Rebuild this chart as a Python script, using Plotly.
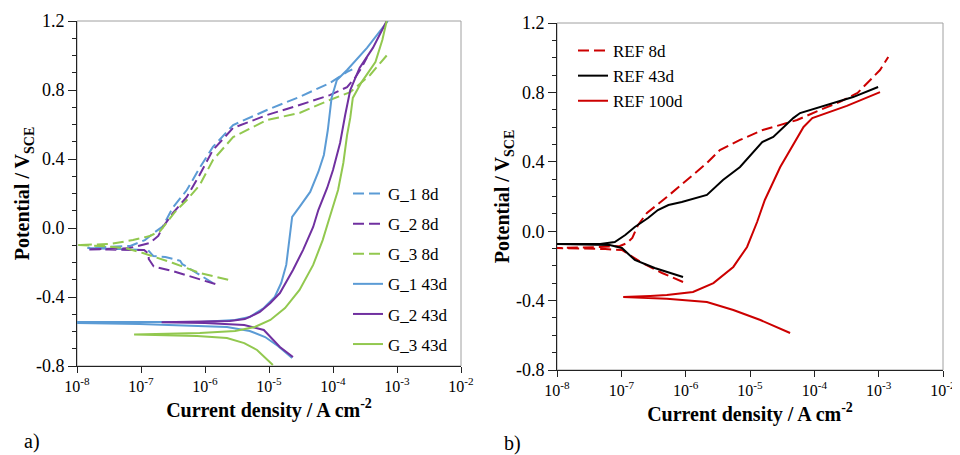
import plotly.graph_objects as go

# ---------------- data (current density A/cm2, potential V_SCE) ----------------
# Panel a)
g1_8d_i = [1.33e-6, 6.9e-7, 4.4e-7, 4.1e-7, 2.4e-7, 1.55e-7, 1.29e-7, 4.7e-8, 1.45e-8,
           6.8e-8, 1.15e-7, 1.66e-7, 2.2e-7, 3.16e-7, 5.2e-7, 8.3e-7, 1.33e-6, 2.75e-6,
           9.3e-6, 3.0e-5, 8.9e-5, 1.66e-4, 2.0e-4]
g1_8d_e = [-0.319, -0.255, -0.209, -0.19, -0.168, -0.162, -0.128, -0.122, -0.116,
           -0.104, -0.07, -0.023, 0.01, 0.12, 0.22, 0.35, 0.47, 0.597,
           0.684, 0.76, 0.84, 0.905, 0.92]

g2_8d_i = [1.45e-6, 5.9e-7, 3.3e-7, 1.58e-7, 1.32e-7, 1.32e-7, 1.12e-7, 3.16e-8, 1.45e-8,
           6.3e-8, 1.38e-7, 1.86e-7, 2.2e-7, 3.16e-7, 5.2e-7, 8.3e-7, 1.33e-6, 2.75e-6,
           9.3e-6, 3.0e-5, 8.9e-5, 1.66e-4, 2.2e-4, 2.8e-4, 3.4e-4]
g2_8d_e = [-0.325, -0.28, -0.252, -0.223, -0.18, -0.15, -0.128, -0.125, -0.124,
           -0.118, -0.087, -0.046, 0.006, 0.087, 0.18, 0.31, 0.452, 0.58,
           0.655, 0.713, 0.77, 0.817, 0.87, 0.93, 0.99]

g3_8d_i = [2.3e-6, 8.3e-7, 3.16e-7, 1.07e-7, 5.6e-8, 2.3e-8, 1.0e-8,
           3.3e-8, 7.5e-8, 1.38e-7, 2.0e-7, 2.6e-7, 3.4e-7, 5.2e-7, 8.3e-7, 1.33e-6,
           2.75e-6, 9.3e-6, 3.0e-5, 8.9e-5, 1.86e-4, 3.8e-4, 6.9e-4]
g3_8d_e = [-0.30, -0.261, -0.203, -0.145, -0.116, -0.104, -0.099,
           -0.093, -0.07, -0.046, -0.017, 0.035, 0.093, 0.162, 0.25, 0.394,
           0.527, 0.626, 0.667, 0.742, 0.788, 0.887, 1.0]

g1_43d_i = [2.3e-5, 1.38e-5, 8.7e-6, 5.0e-6, 2.2e-6, 9.5e-8, 1.0e-8,
            1.0e-8, 8.3e-7, 2.95e-6, 5.0e-6, 8.3e-6, 1.23e-5, 1.55e-5, 1.86e-5, 2.1e-5,
            2.3e-5, 3.0e-5, 4.4e-5, 5.9e-5, 7.2e-5, 8.3e-5, 9.5e-5, 1.15e-4, 1.66e-4,
            3.4e-4, 7.2e-4]
g1_43d_e = [-0.753, -0.684, -0.632, -0.597, -0.574, -0.557, -0.55,
            -0.545, -0.545, -0.533, -0.516, -0.464, -0.40, -0.319, -0.214, -0.07,
            0.064, 0.122, 0.209, 0.325, 0.423, 0.568, 0.754, 0.858, 0.916,
            1.044, 1.2]

g2_43d_i = [2.37e-5, 1.48e-5, 8.3e-6, 4.1e-6, 1.0e-6, 2.1e-7,
            2.45e-6, 4.2e-6, 7.2e-6, 1.05e-5, 1.48e-5, 2.37e-5, 3.4e-5, 4.9e-5,
            5.9e-5, 8.1e-5, 1.0e-4, 1.29e-4, 1.55e-4, 1.86e-4, 2.6e-4, 4.2e-4, 6.9e-4]
g2_43d_e = [-0.748, -0.69, -0.591, -0.562, -0.55, -0.546,
            -0.539, -0.528, -0.487, -0.435, -0.377, -0.243, -0.128, 0.006,
            0.104, 0.232, 0.336, 0.493, 0.655, 0.80, 0.928, 1.044, 1.2]

g3_43d_i = [1.15e-5, 8.9e-6, 6.5e-6, 4.1e-6, 2.2e-6, 7.5e-7, 7.8e-8,
            8.3e-7, 2.95e-6, 6.0e-6, 1.05e-5, 1.78e-5, 3.0e-5, 4.9e-5, 6.9e-5,
            8.9e-5, 1.2e-4, 1.45e-4, 1.66e-4, 1.86e-4, 2.04e-4, 2.8e-4, 4.6e-4,
            5.9e-4, 6.9e-4]
g3_43d_e = [-0.794, -0.754, -0.707, -0.667, -0.638, -0.626, -0.617,
            -0.609, -0.597, -0.574, -0.533, -0.464, -0.359, -0.214, -0.07,
            0.064, 0.22, 0.377, 0.539, 0.638, 0.754, 0.846, 0.962,
            1.09, 1.2]

# Panel b)
ref_8d_i = [9.1e-7, 4.3e-7, 2.1e-7, 1.02e-7, 5.6e-8, 1.0e-8,
            4.7e-8, 9.5e-8, 1.23e-7, 1.48e-7, 1.82e-7, 2.5e-7, 5.1e-7, 1.05e-6,
            2.14e-6, 3.4e-6, 7.0e-6, 1.58e-5, 5.4e-5, 1.23e-4, 2.5e-4, 4.7e-4,
            6.6e-4, 1.05e-3, 1.41e-3]
ref_8d_e = [-0.293, -0.241, -0.183, -0.108, -0.103, -0.097,
            -0.091, -0.085, -0.068, -0.039, 0.036, 0.105, 0.197, 0.295,
            0.393, 0.468, 0.526, 0.583, 0.641, 0.699, 0.745, 0.797,
            0.854, 0.929, 1.004]

ref_43d_i = [9.1e-7, 3.3e-7, 1.62e-7, 1.02e-7, 6.6e-8, 1.0e-8,
             4.7e-8, 7.9e-8, 1.15e-7, 1.62e-7, 2.6e-7, 3.7e-7, 5.4e-7, 8.7e-7,
             2.14e-6, 3.8e-6, 7.0e-6, 1.29e-5, 1.55e-5, 2.3e-5, 4.7e-5, 6.0e-5,
             1.58e-4, 4.0e-4, 9.8e-4]
ref_43d_e = [-0.264, -0.212, -0.166, -0.097, -0.08, -0.074,
             -0.074, -0.062, -0.022, 0.024, 0.076, 0.122, 0.151, 0.168,
             0.209, 0.295, 0.37, 0.485, 0.514, 0.543, 0.652, 0.681,
             0.727, 0.773, 0.831]

ref_100d_i = [4.2e-5, 1.45e-5, 5.5e-6, 2.14e-6, 5.1e-7, 1.07e-7,
              2.8e-7, 5.1e-7, 1.3e-6, 2.7e-6, 5.5e-6, 9.0e-6, 1.29e-5, 1.7e-5,
              2.95e-5, 4.7e-5, 6.8e-5, 9.3e-5, 1.78e-4, 3.2e-4, 1.05e-3]
ref_100d_e = [-0.587, -0.512, -0.454, -0.408, -0.39, -0.379,
              -0.373, -0.368, -0.35, -0.299, -0.206, -0.091, 0.053, 0.18,
              0.37, 0.497, 0.601, 0.652, 0.687, 0.722, 0.802]

x_tickvals = [1e-8, 1e-7, 1e-6, 1e-5, 1e-4, 1e-3, 1e-2]
x_ticktext = ["10<sup>-8</sup>", "10<sup>-7</sup>", "10<sup>-6</sup>", "10<sup>-5</sup>",
              "10<sup>-4</sup>", "10<sup>-3</sup>", "10<sup>-2</sup>"]
y_tickvals = [-0.8, -0.4, 0.0, 0.4, 0.8, 1.2]
y_ticktext = ["-0.8", "-0.4", "0.0", "0.4", "0.8", "1.2"]

BLUE = "#5B9BD5"
PURPLE = "#7030A0"
GREEN = "#92C84F"
RED = "#CC0000"
BLACK = "#000000"
DASH = "11px,5px"
SERIF = "Liberation Serif"

fig = go.Figure()

left = [
    ("G_1 8d", g1_8d_i, g1_8d_e, BLUE, DASH),
    ("G_2 8d", g2_8d_i, g2_8d_e, PURPLE, DASH),
    ("G_3 8d", g3_8d_i, g3_8d_e, GREEN, DASH),
    ("G_1 43d", g1_43d_i, g1_43d_e, BLUE, "solid"),
    ("G_2 43d", g2_43d_i, g2_43d_e, PURPLE, "solid"),
    ("G_3 43d", g3_43d_i, g3_43d_e, GREEN, "solid"),
]
for k, (name, xi, ye, col, dash) in enumerate(left):
    fig.add_trace(go.Scatter(x=xi, y=ye, mode="lines", name=name,
                             line=dict(color=col, width=2, dash=dash),
                             xaxis="x", yaxis="y", legend="legend",
                             legendgroup="a%d" % k))

right = [
    ("REF 8d", ref_8d_i, ref_8d_e, RED, DASH),
    ("REF 43d", ref_43d_i, ref_43d_e, BLACK, "solid"),
    ("REF 100d", ref_100d_i, ref_100d_e, RED, "solid"),
]
for k, (name, xi, ye, col, dash) in enumerate(right):
    fig.add_trace(go.Scatter(x=xi, y=ye, mode="lines", name=name,
                             line=dict(color=col, width=2, dash=dash),
                             xaxis="x2", yaxis="y2", legend="legend2",
                             legendgroup="b%d" % k))

# The page body has an 8px margin, so the figure is sized to fit the window;
# positions below are given in window pixels.
OFF = 8
W, H = 960 - OFF, 455 - OFF


def PX(px):
    return (px - OFF) / W


def PY(py):
    return 1 - (py - OFF) / H


def xax(x0, x1, anchor):
    return dict(type="log", range=[-8, -2], domain=[PX(x0), PX(x1)], anchor=anchor,
                showline=True, linecolor="#222222", linewidth=1, mirror=False,
                ticks="outside", ticklen=6, tickcolor="#222222",
                tickvals=x_tickvals, ticktext=x_ticktext, ticklabeloverflow="allow",
                tickfont=dict(family=SERIF, size=16, color="black"),
                showgrid=False, zeroline=False, automargin=False,
                title=dict(text="<b>Current density / A cm<sup>-2</sup></b>",
                           font=dict(family=SERIF, size=20, color="black"), standoff=8))


def yax(top, bottom, anchor):
    return dict(range=[-0.8, 1.2], domain=[PY(bottom), PY(top)], anchor=anchor,
                showline=True, linecolor="#222222", linewidth=1, mirror=False,
                ticks="outside", ticklen=8, tickcolor="#222222",
                tickvals=y_tickvals, ticktext=y_ticktext,
                tickfont=dict(family=SERIF, size=18, color="black"),
                minor=dict(tickmode="linear", tick0=0, dtick=0.1, ticks="outside",
                           ticklen=4, tickcolor="#222222"),
                showgrid=False, zeroline=False, automargin=False,
                title=dict(text="<b>Potential / V<sub>SCE</sub></b>",
                           font=dict(family=SERIF, size=20, color="black"), standoff=0))


fig.update_layout(
    width=W, height=H,
    margin=dict(l=0, r=0, t=0, b=0),
    paper_bgcolor="white", plot_bgcolor="white",
    xaxis=xax(77, 461, "y"),
    yaxis=yax(21, 366, "x"),
    xaxis2=xax(557, 943, "y2"),
    yaxis2=yax(23, 370, "x2"),
    legend=dict(x=PX(348), y=PY(176), xanchor="left", yanchor="top",
                font=dict(family=SERIF, size=17, color="black"),
                bgcolor="rgba(0,0,0,0)", tracegroupgap=5, itemwidth=30),
    legend2=dict(x=PX(573), y=PY(33), xanchor="left", yanchor="top",
                 font=dict(family=SERIF, size=17, color="black"),
                 bgcolor="rgba(0,0,0,0)", tracegroupgap=0, itemwidth=30),
    shapes=[
        dict(type="rect", xref="x domain", yref="y domain", x0=0, x1=1, y0=0, y1=1,
             line=dict(color="#a0a0a0", width=1), layer="below"),
        dict(type="rect", xref="x2 domain", yref="y2 domain", x0=0, x1=1, y0=0, y1=1,
             line=dict(color="#a0a0a0", width=1), layer="below"),
    ],
    annotations=[
        dict(text="a)", x=PX(22), y=PY(441), xref="paper", yref="paper",
             xanchor="left", yanchor="middle", showarrow=False,
             font=dict(family=SERIF, size=20, color="black")),
        dict(text="b)", x=PX(502), y=PY(443), xref="paper", yref="paper",
             xanchor="left", yanchor="middle", showarrow=False,
             font=dict(family=SERIF, size=20, color="black")),
    ],
)

fig.write_html("out.html")
